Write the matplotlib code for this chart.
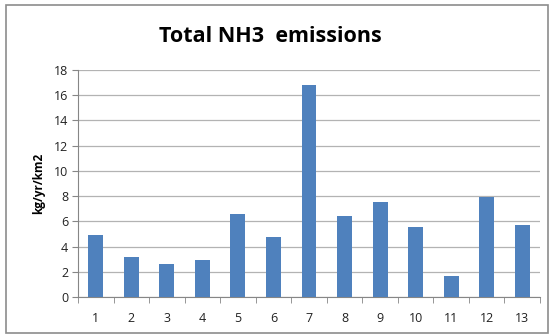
import matplotlib
matplotlib.use("Agg")
import matplotlib.pyplot as plt
from matplotlib.patches import Rectangle
import numpy as np

categories = ["1", "2", "3", "4", "5", "6", "7", "8", "9", "10", "11", "12", "13"]
emissions = [4.9, 3.15, 2.65, 2.9, 6.6, 4.75, 16.85, 6.45, 7.5, 5.55, 1.65, 7.95, 5.7]
y_ticks = [0, 2, 4, 6, 8, 10, 12, 14, 16, 18]

plt.rcParams["font.family"] = ["Open Sans", "DejaVu Sans"]

fig = plt.figure(figsize=(5.5, 3.36), dpi=100)
fig.patch.set_facecolor("white")
fig.add_artist(Rectangle((0.011, 0.009), 0.985, 0.976, transform=fig.transFigure,
                         fill=False, edgecolor="#8c8c8c", linewidth=1.2))

ax = fig.add_axes([78 / 550, 1 - 297 / 336, (540 - 78) / 550, (297 - 70) / 336])
x = np.arange(len(categories))
ax.bar(x, emissions, width=0.42, color="#4f81bd", zorder=3)

ax.set_xlim(-0.5, len(categories) - 0.5)
ax.set_ylim(0, 18)
ax.set_yticks(y_ticks)
ax.set_xticks(x)
ax.set_xticklabels(categories)
ax.set_xticks(np.arange(-0.5, len(categories)), minor=True)
ax.tick_params(axis="x", which="major", length=0, labelsize=9, pad=11, colors="#222222")
ax.tick_params(axis="x", which="minor", length=4, color="#868686", direction="out")
ax.tick_params(axis="y", length=4, color="#868686", labelsize=9, colors="#222222", pad=3)
ax.grid(axis="y", color="#b3b3b3", linewidth=0.9, zorder=0)

for side in ["top", "right"]:
    ax.spines[side].set_visible(False)
ax.spines["left"].set_color("#868686")
ax.spines["bottom"].set_color("#868686")

ax.set_ylabel("kg/yr/km2", fontsize=8.5, fontweight="bold", labelpad=6)
fig.text(270 / 550, 1 - 37 / 336, "Total NH3  emissions", ha="center", va="center",
         fontsize=15.5, fontweight="bold")

fig.savefig("out.png", dpi=100)
